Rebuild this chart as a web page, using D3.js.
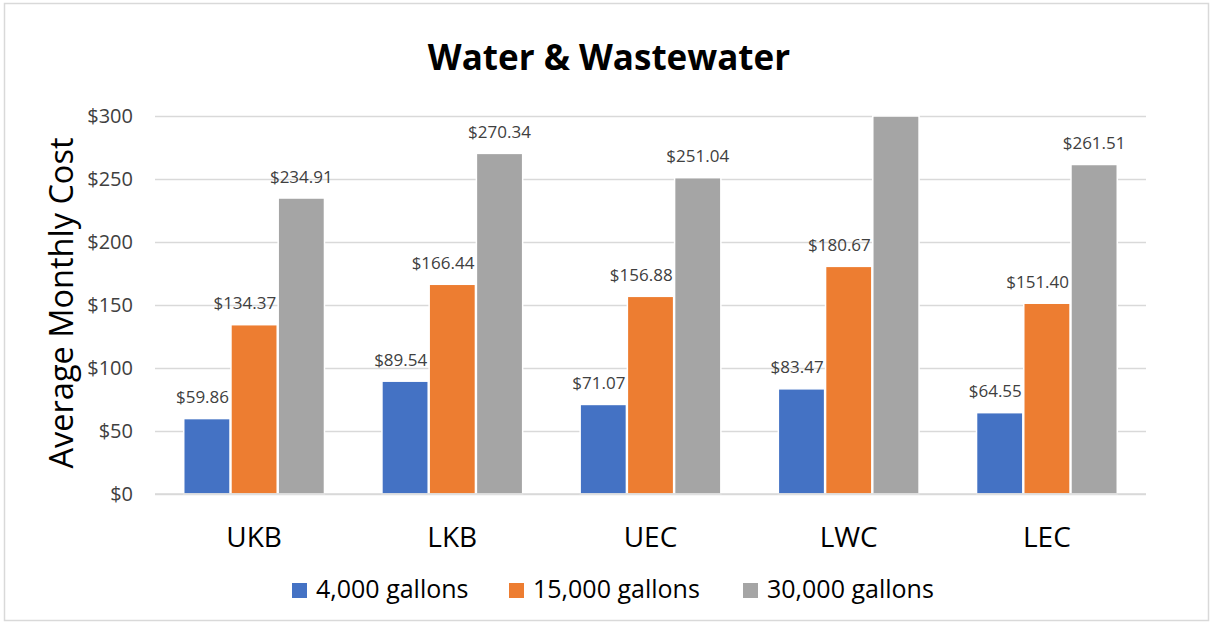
<!DOCTYPE html>
<html>
<head>
<meta charset="utf-8">
<script src="https://cdn.jsdelivr.net/npm/d3@7"></script>
<style>
  body { margin: 0; background: #fff; }
  text { font-family: "Open Sans", "Noto Sans", sans-serif; }
</style>
</head>
<body>
<div id="chart"></div>
<script>
const categories = ['UKB', 'LKB', 'UEC', 'LWC', 'LEC']
const seriesNames = ['4,000 gallons', '15,000 gallons', '30,000 gallons']
const gallons4k = [59.86, 89.54, 71.07, 83.47, 64.55]
const gallons15k = [134.37, 166.44, 156.88, 180.67, 151.40]
// LWC 30,000 runs past the top of the axis, no label shown in the original
const gallons30k = [234.91, 270.34, 251.04, 318, 261.51]
const yTicks = [0, 50, 100, 150, 200, 250, 300]
const colors = ['#4472C4', '#ED7D31', '#A5A5A5']

const width = 1211
const height = 625
const margin = { top: 116, left: 155, right: 65, bottom: 131 }
const yMax = 300

const svg = d3.select('#chart')
  .append('svg')
  .attr('width', width)
  .attr('height', height)

// chart border
svg.append('rect')
  .attr('x', 4.5).attr('y', 3.5)
  .attr('width', 1204).attr('height', 617)
  .attr('fill', 'white')
  .attr('stroke', '#d9d9d9')
  .attr('stroke-width', 1.5)

const x0 = d3.scaleBand()
  .domain(categories)
  .range([margin.left, width - margin.right])
  .paddingInner(0.29)
  .paddingOuter(0.145)

const x1 = d3.scaleBand()
  .domain(seriesNames)
  .range([0, x0.bandwidth()])
  .paddingInner(0.02)

const y = d3.scaleLinear()
  .domain([0, yMax])
  .range([height - margin.bottom, margin.top])

// gridlines + y labels
const yAxis = svg.append('g')
  .attr('transform', 'translate(' + margin.left + ',0)')
  .call(d3.axisLeft(y)
    .tickValues(yTicks)
    .tickSize(-(width - margin.left - margin.right))
    .tickPadding(22)
    .tickFormat(d => '$' + d))
yAxis.select('.domain').remove()
yAxis.selectAll('line').attr('stroke', '#d9d9d9').attr('stroke-width', 1.5)
yAxis.selectAll('text')
  .attr('font-size', '20px')
  .attr('fill', '#404040')
  .style('font-family', '"Open Sans", sans-serif')

// bars
const data = categories.map((c, i) => ({
  cat: c,
  values: [gallons4k[i], gallons15k[i], gallons30k[i]].map((v, j) => ({ series: seriesNames[j], value: v, idx: j }))
}))

const groups = svg.selectAll('.group')
  .data(data)
  .enter()
  .append('g')
  .attr('class', 'group')
  .attr('transform', d => 'translate(' + x0(d.cat) + ',0)')

groups.selectAll('rect')
  .data(d => d.values)
  .enter()
  .append('rect')
  .attr('x', d => x1(d.series))
  .attr('width', x1.bandwidth())
  .attr('y', d => y(Math.min(d.value, yMax)))
  .attr('height', d => y(0) - y(Math.min(d.value, yMax)))
  .attr('fill', d => colors[d.idx])
  .attr('stroke', 'white')
  .attr('stroke-width', 1.5)

// first two series have their labels pushed left (end at bar's right edge), last is centred
groups.selectAll('.label')
  .data(d => d.values.filter(v => v.value <= yMax))
  .enter()
  .append('text')
  .attr('class', 'label')
  .attr('x', d => d.idx < 2 ? x1(d.series) + x1.bandwidth() - 1 : x1(d.series) + x1.bandwidth() / 2)
  .attr('y', d => y(d.value) - 15.5)
  .attr('text-anchor', d => d.idx < 2 ? 'end' : 'middle')
  .attr('font-size', '17px')
  .attr('fill', '#404040')
  .text(d => '$' + d3.format(',.2f')(d.value))

// baseline
svg.append('line')
  .attr('x1', margin.left).attr('x2', width - margin.right)
  .attr('y1', y(0)).attr('y2', y(0))
  .attr('stroke', '#d9d9d9')
  .attr('stroke-width', 1.5)

// category labels
svg.selectAll('.cat')
  .data(categories)
  .enter()
  .append('text')
  .attr('class', 'cat')
  .attr('x', d => x0(d) + x0.bandwidth() / 2)
  .attr('y', 547)
  .attr('text-anchor', 'middle')
  .attr('font-size', '28px')
  .attr('fill', '#000')
  .text(d => d)

// title
svg.append('text')
  .attr('x', 609)
  .attr('y', 70)
  .attr('text-anchor', 'middle')
  .attr('font-size', '35px')
  .attr('font-weight', 'bold')
  .attr('fill', '#000')
  .text('Water & Wastewater')

// y title
svg.append('text')
  .attr('transform', 'translate(73,303) rotate(-90)')
  .attr('text-anchor', 'middle')
  .attr('font-size', '32.5px')
  .attr('fill', '#000')
  .text('Average Monthly Cost')

// legend
const legendX = [292, 509, 743]
const legend = svg.selectAll('.legend')
  .data(seriesNames)
  .enter()
  .append('g')
  .attr('class', 'legend')
  .attr('transform', (d, i) => 'translate(' + legendX[i] + ',583)')

legend.append('rect')
  .attr('width', 15)
  .attr('height', 15)
  .attr('fill', (d, i) => colors[i])

legend.append('text')
  .attr('x', 24)
  .attr('y', 15)
  .attr('font-size', '25px')
  .attr('fill', '#000')
  .text(d => d)
</script>
</body>
</html>
